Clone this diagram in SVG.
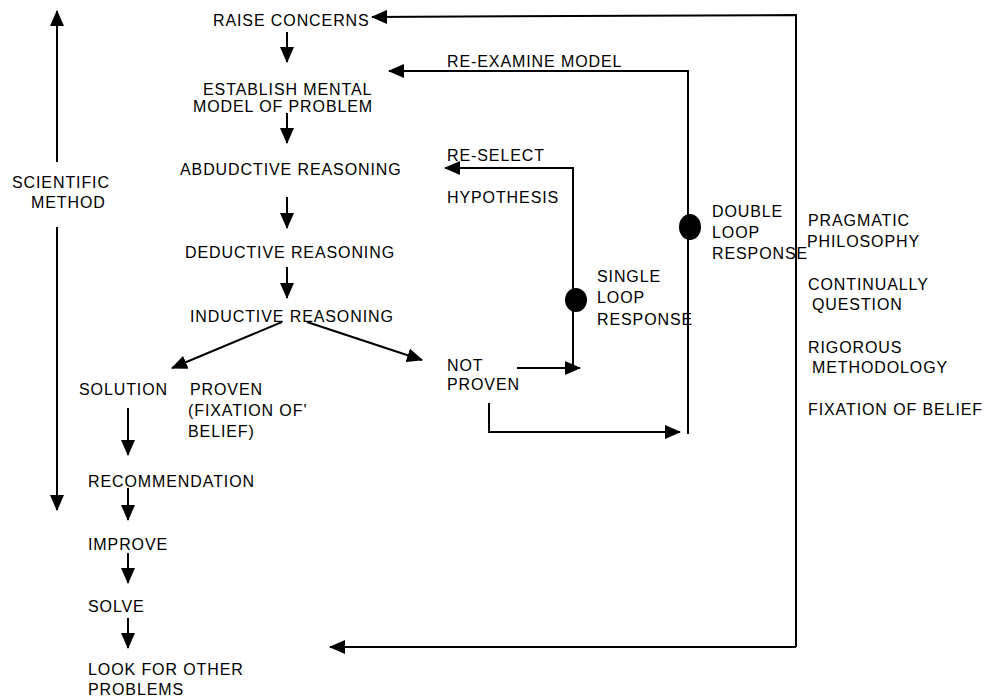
<svg xmlns="http://www.w3.org/2000/svg" width="986" height="698" viewBox="0 0 986 698">
  <style>
    text { font-family: "Liberation Sans", Arial, sans-serif; font-size: 16px; letter-spacing: 0.9px; fill: #000; }
    .ln { fill: none; stroke: #000; stroke-width: 2; }
    .dot { fill: #000; }
  </style>
  <defs>
    <marker id="ah" markerUnits="userSpaceOnUse" markerWidth="16" markerHeight="14" viewBox="0 0 16 14" refX="15" refY="7" orient="auto">
      <path d="M0,0 L16,7 L0,14 Z" fill="#000"/>
    </marker>
  </defs>

  <rect width="986" height="698" fill="#fff"/>

  <!-- connectors -->
  <g id="connectors">
    <!-- scientific method span -->
    <line class="ln" x1="57" y1="162" x2="57" y2="11" marker-end="url(#ah)"/>
    <line class="ln" x1="57" y1="227" x2="57" y2="510" marker-end="url(#ah)"/>
    <!-- main chain -->
    <line class="ln" x1="287" y1="32" x2="287" y2="62" marker-end="url(#ah)"/>
    <line class="ln" x1="287" y1="113" x2="287" y2="143" marker-end="url(#ah)"/>
    <line class="ln" x1="287" y1="197" x2="287" y2="228" marker-end="url(#ah)"/>
    <line class="ln" x1="287" y1="267" x2="287" y2="298" marker-end="url(#ah)"/>
    <line class="ln" x1="282" y1="322" x2="172" y2="368" marker-end="url(#ah)"/>
    <line class="ln" x1="307" y1="322" x2="422" y2="360" marker-end="url(#ah)"/>
    <line class="ln" x1="128" y1="408" x2="128" y2="455" marker-end="url(#ah)"/>
    <line class="ln" x1="128" y1="488" x2="128" y2="520" marker-end="url(#ah)"/>
    <line class="ln" x1="128" y1="553" x2="128" y2="583" marker-end="url(#ah)"/>
    <line class="ln" x1="128" y1="618" x2="128" y2="648" marker-end="url(#ah)"/>
    <!-- single loop -->
    <line class="ln" x1="517" y1="368" x2="580" y2="368" marker-end="url(#ah)"/>
    <polyline class="ln" points="573,368 573,168 445,168" marker-end="url(#ah)"/>
    <!-- double loop -->
    <polyline class="ln" points="489,403 489,432 680,432" marker-end="url(#ah)"/>
    <polyline class="ln" points="688,434 688,71 389,71" marker-end="url(#ah)"/>
    <!-- outer loop -->
    <polyline class="ln" points="796,647 796,15 372,17" marker-end="url(#ah)"/>
    <line class="ln" x1="796" y1="647" x2="330" y2="647" marker-end="url(#ah)"/>
  </g>

  <g id="loop-dots">
    <ellipse class="dot" cx="576" cy="300" rx="11" ry="12"/>
    <ellipse class="dot" cx="690" cy="227" rx="11" ry="13"/>
  </g>

  <g id="scientific-method">
    <text x="12" y="188">SCIENTIFIC</text>
    <text x="31" y="208">METHOD</text>
  </g>
  <g id="raise-concerns"><text x="213" y="26">RAISE CONCERNS</text></g>
  <g id="mental-model">
    <text x="203" y="95">ESTABLISH MENTAL</text>
    <text x="193" y="112">MODEL OF PROBLEM</text>
  </g>
  <g id="abductive"><text x="180" y="175">ABDUDCTIVE REASONING</text></g>
  <g id="deductive"><text x="185" y="258">DEDUCTIVE REASONING</text></g>
  <g id="inductive"><text x="190" y="322">INDUCTIVE REASONING</text></g>
  <g id="solution"><text x="79" y="395">SOLUTION</text></g>
  <g id="proven">
    <text x="190" y="395">PROVEN</text>
    <text x="188" y="416">(FIXATION OF'</text>
    <text x="188" y="437">BELIEF)</text>
  </g>
  <g id="not-proven">
    <text x="447" y="371">NOT</text>
    <text x="447" y="390">PROVEN</text>
  </g>
  <g id="re-select">
    <text x="447" y="161">RE-SELECT</text>
    <text x="447" y="203">HYPOTHESIS</text>
  </g>
  <g id="re-examine"><text x="447" y="67">RE-EXAMINE MODEL</text></g>
  <g id="single-loop">
    <text x="597" y="282">SINGLE</text>
    <text x="597" y="303">LOOP</text>
    <text x="597" y="325">RESPONSE</text>
  </g>
  <g id="double-loop">
    <text x="712" y="217">DOUBLE</text>
    <text x="712" y="238">LOOP</text>
    <text x="712" y="259">RESPONSE</text>
  </g>
  <g id="pragmatic">
    <text x="808" y="226">PRAGMATIC</text>
    <text x="807" y="247">PHILOSOPHY</text>
    <text x="808" y="290">CONTINUALLY</text>
    <text x="812" y="310">QUESTION</text>
    <text x="808" y="353">RIGOROUS</text>
    <text x="812" y="373">METHODOLOGY</text>
    <text x="808" y="415">FIXATION OF BELIEF</text>
  </g>
  <g id="recommendation"><text x="88" y="487">RECOMMENDATION</text></g>
  <g id="improve"><text x="88" y="550">IMPROVE</text></g>
  <g id="solve"><text x="88" y="612">SOLVE</text></g>
  <g id="look-for-others">
    <text x="88" y="675">LOOK FOR OTHER</text>
    <text x="88" y="695">PROBLEMS</text>
  </g>
</svg>
